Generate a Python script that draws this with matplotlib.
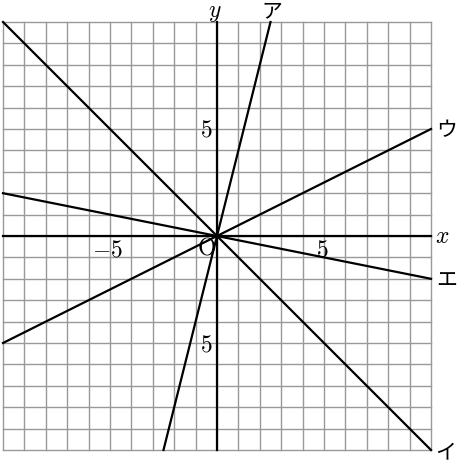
import matplotlib
matplotlib.use('Agg')
import matplotlib.pyplot as plt
import numpy as np

# lines through the origin: y = slope * x
line_names = ['ア', 'イ', 'ウ', 'エ']
slopes = [4, -1, 0.5, -0.2]
x_ticks = [-5, 5]
x_tick_labels = ['$-5$', '$5$']
y_ticks = [-5, 5]
y_tick_labels = ['$5$', '$5$']   # the reference shows no minus on the lower one

lim = 10

plt.rcParams['mathtext.fontset'] = 'cm'

fig = plt.figure(figsize=(4.62, 4.64), dpi=100)
ax = fig.add_axes([3 / 462, 13 / 464, 428 / 462, 428 / 464])
ax.set_xlim(-lim, lim)
ax.set_ylim(-lim, lim)
ax.axis('off')

# grid
for v in np.arange(-lim, lim + 1):
    ax.plot([v, v], [-lim, lim], color='#999999', lw=1.0, zorder=1, clip_on=False)
    ax.plot([-lim, lim], [v, v], color='#999999', lw=1.0, zorder=1, clip_on=False)

# axes
ax.plot([-lim, lim], [0, 0], color='black', lw=1.6, zorder=2, clip_on=False)
ax.plot([0, 0], [-lim, lim], color='black', lw=1.6, zorder=2, clip_on=False)

# lines
for s in slopes:
    if abs(s) > 1:
        ys = np.array([-lim, lim])
        xs = ys / s
    else:
        xs = np.array([-lim, lim])
        ys = s * xs
    ax.plot(xs, ys, color='black', lw=1.6, zorder=3, clip_on=False)

jp = ['Noto Sans CJK JP', 'DejaVu Sans']

# line labels
label_pos = {
    'ア': (lim / slopes[0] + 0.05, lim + 0.55),
    'イ': (lim + 0.7, -lim - 0.05),
    'ウ': (lim + 0.75, lim * slopes[2]),
    'エ': (lim + 0.75, lim * slopes[3] - 0.05),
}
for name in line_names:
    x, y = label_pos[name]
    ax.text(x, y, name, fontsize=15, family=jp, ha='center', va='center')

# axis labels
ax.text(lim + 0.5, 0.05, '$x$', fontsize=17, ha='center', va='center')
ax.text(-0.1, lim + 0.5, '$y$', fontsize=17, ha='center', va='center')
ax.text(-0.5, -0.5, r'$\mathrm{O}$', fontsize=17, ha='center', va='center')

# tick labels
for t, lab in zip(x_ticks, x_tick_labels):
    ax.text(t - 0.1, -0.6, lab, fontsize=17, ha='center', va='center')
for t, lab in zip(y_ticks, y_tick_labels):
    ax.text(-0.2, t, lab, fontsize=17, ha='right', va='center')

fig.savefig('out.png', dpi=100)
